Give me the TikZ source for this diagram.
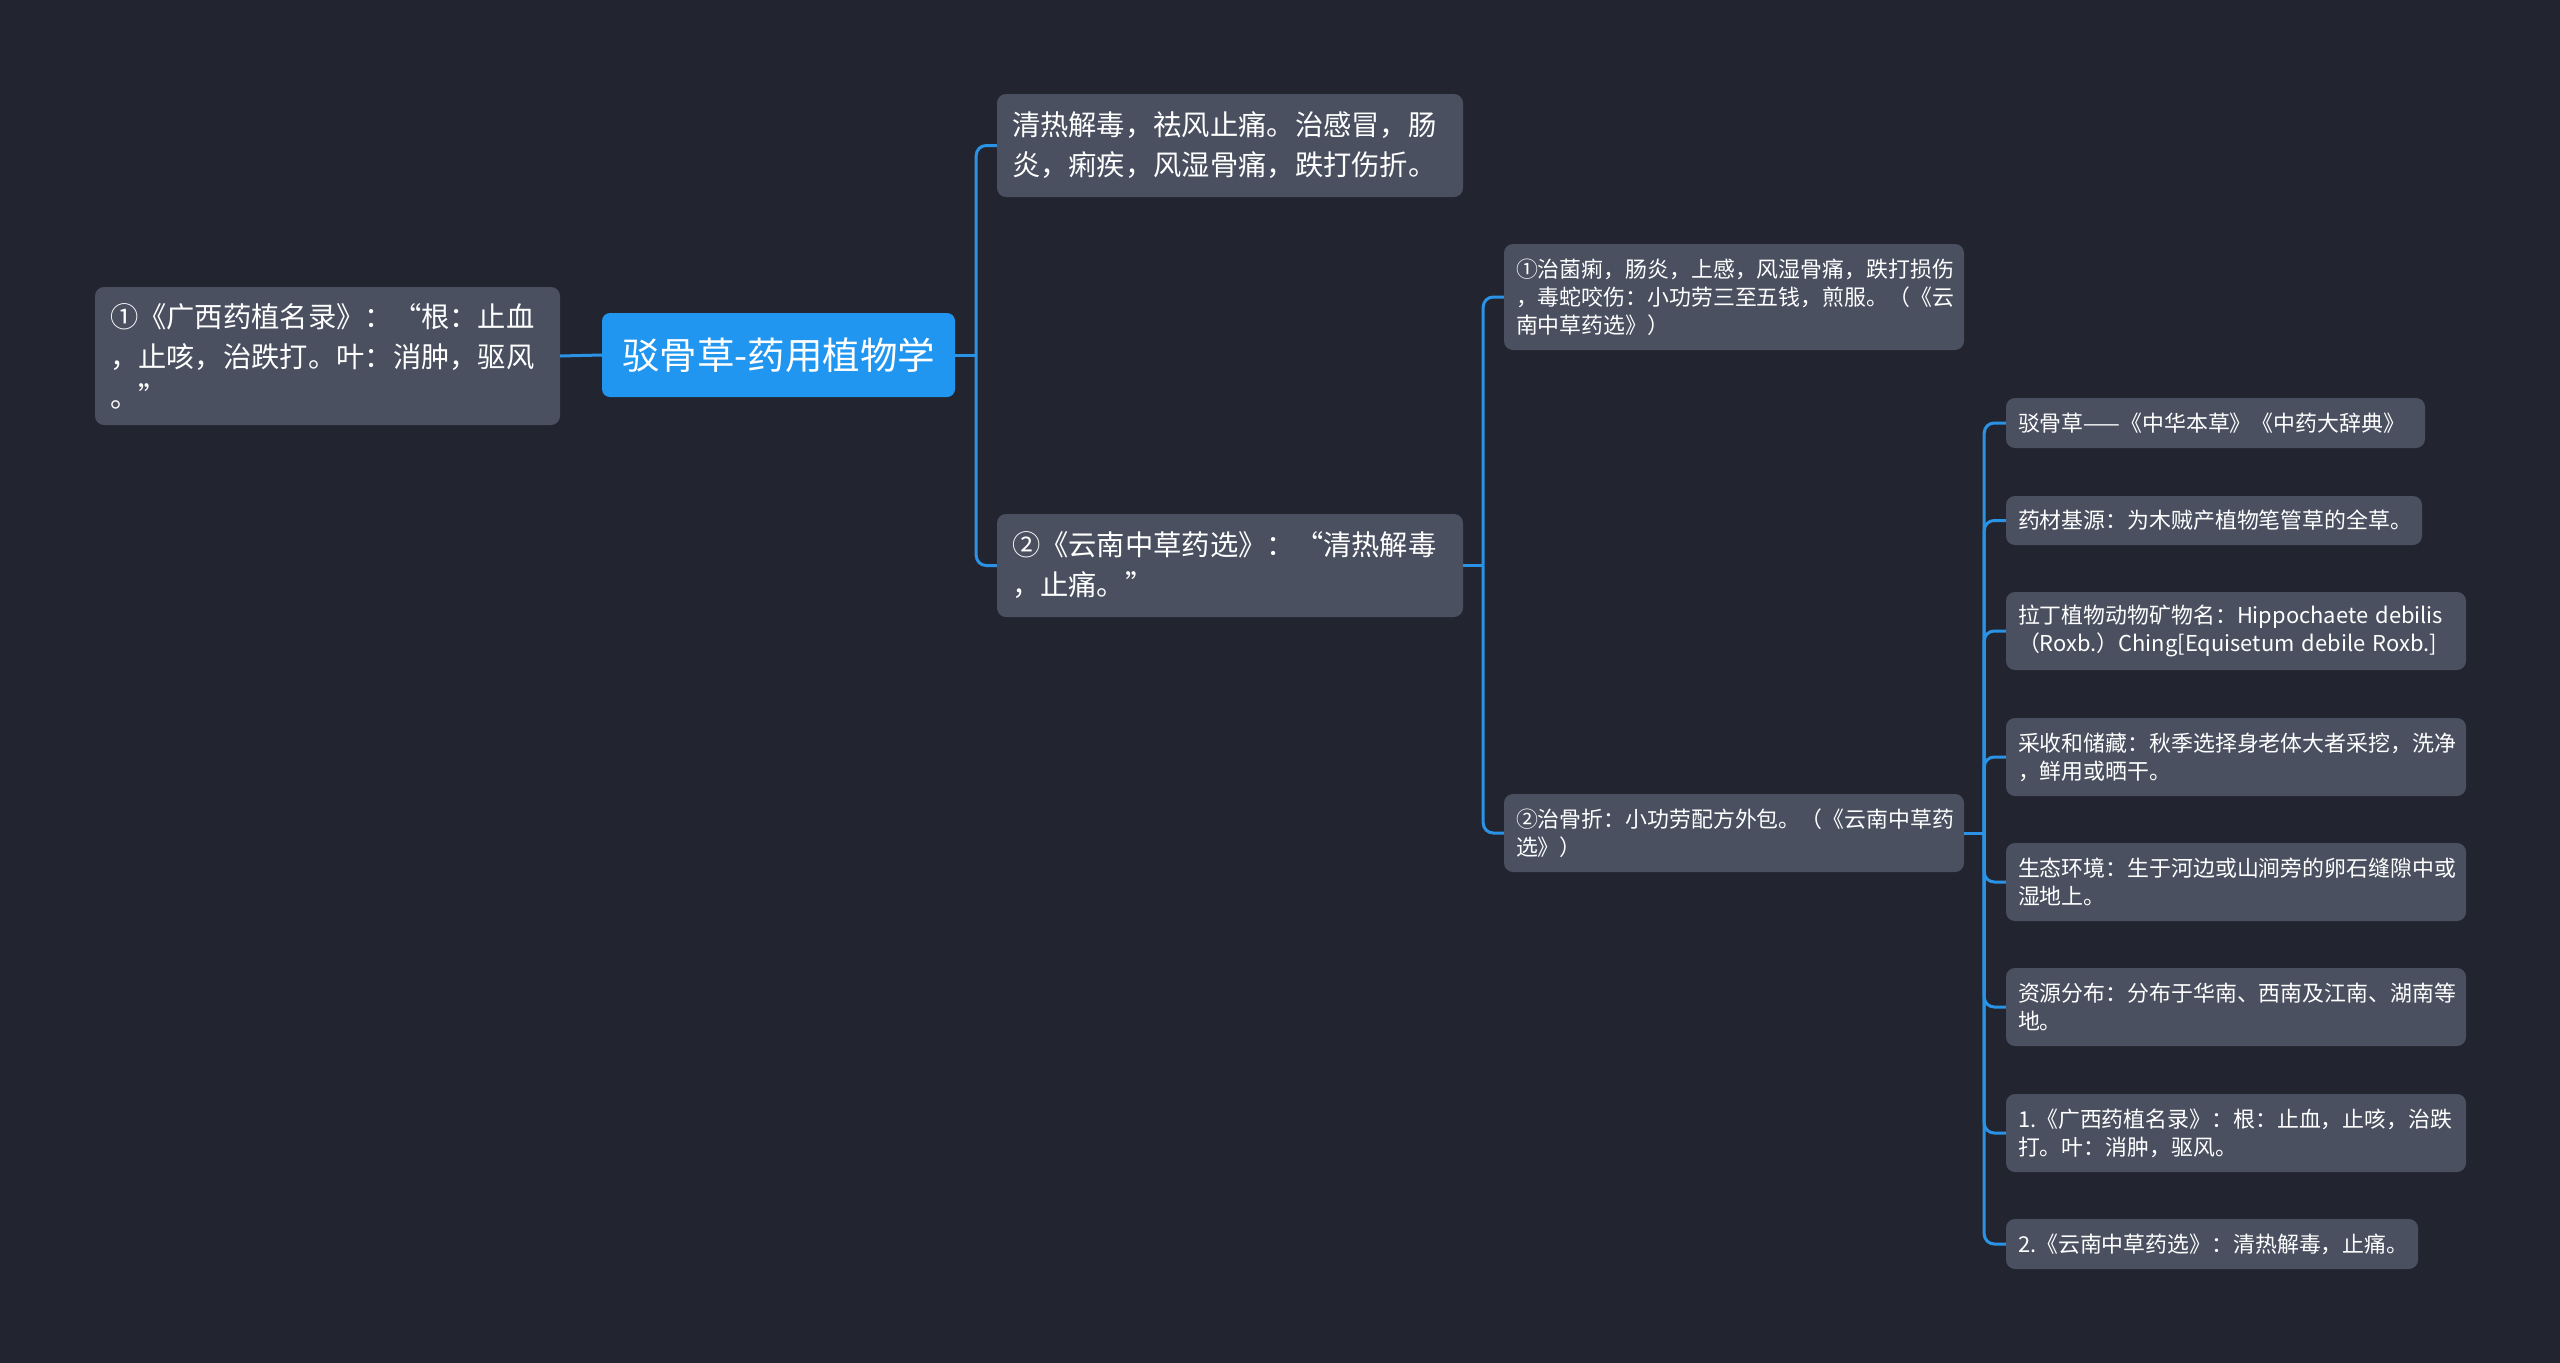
\documentclass[tikz,border=0pt]{standalone}
\usepackage{fontspec}
\setmainfont{Noto Sans CJK SC}
\usetikzlibrary{calc}
\definecolor{bgc}{HTML}{22252F}
\definecolor{boxc}{HTML}{4A5060}
\definecolor{rootc}{HTML}{2196F0}
\definecolor{linec}{HTML}{2B93E6}
\tikzset{
  box/.style={rounded corners=9pt, fill=boxc, text=white, inner ysep=0pt, anchor=center, align=left},
  bigbox/.style={box, font=\fontsize{28.3}{40}\selectfont, inner xsep=15pt},
  smallbox/.style={box, font=\fontsize{21.9}{28}\selectfont, inner xsep=12pt},
  rootbox/.style={rounded corners=8pt, fill=rootc, text=white, inner sep=0pt, anchor=center, align=center, font=\fontsize{37.5}{44}\selectfont},
  conn/.style={draw=linec, line width=3pt, rounded corners=10pt},
}
\begin{document}
\begin{tikzpicture}[x=1pt,y=-1pt]
\fill[bgc] (0,0) rectangle (2560,1363);
\useasboundingbox (0,0) rectangle (2560,1363);

% nodes
\node[bigbox, minimum width=465pt, minimum height=138pt, text width=435pt] (left) at (327.5,356)
  {①《广西药植名录》：“根：止血\\，止咳，治跌打。叶：消肿，驱风\\。”};
\node[rootbox, minimum width=353pt, minimum height=84pt] (root) at (778.5,355) {驳骨草-药用植物学};

\node[bigbox, minimum width=466pt, minimum height=103pt, text width=436pt] (A) at (1230,145.5)
  {清热解毒，祛风止痛。治感冒，肠\\炎，痢疾，风湿骨痛，跌打伤折。};
\node[bigbox, minimum width=466pt, minimum height=103pt, text width=436pt] (B) at (1230,565.5)
  {②《云南中草药选》：“清热解毒\\，止痛。”};

\node[smallbox, minimum width=460pt, minimum height=106pt, text width=436pt] (C1) at (1734,297)
  {①治菌痢，肠炎，上感，风湿骨痛，跌打损伤\\，毒蛇咬伤：小功劳三至五钱，煎服。（《云\\南中草药选》）};
\node[smallbox, minimum width=460pt, minimum height=78pt, text width=436pt] (C2) at (1734,833)
  {②治骨折：小功劳配方外包。（《云南中草药\\选》）};

\node[smallbox, minimum width=419pt, minimum height=50pt, text width=395pt] (L1) at (2215.5,423)
  {驳骨草——《中华本草》《中药大辞典》};
\node[smallbox, minimum width=416pt, minimum height=49pt, text width=392pt] (L2) at (2214,520.5)
  {药材基源：为木贼产植物笔管草的全草。};
\node[smallbox, minimum width=460pt, minimum height=78pt, text width=436pt] (L3) at (2236,631)
  {拉丁植物动物矿物名：Hippochaete debilis\\（Roxb.）Ching[Equisetum debile Roxb.]};
\node[smallbox, minimum width=460pt, minimum height=78pt, text width=436pt] (L4) at (2236,757)
  {采收和储藏：秋季选择身老体大者采挖，洗净\\，鲜用或晒干。};
\node[smallbox, minimum width=460pt, minimum height=78pt, text width=436pt] (L5) at (2236,882)
  {生态环境：生于河边或山涧旁的卵石缝隙中或\\湿地上。};
\node[smallbox, minimum width=460pt, minimum height=78pt, text width=436pt] (L6) at (2236,1007)
  {资源分布：分布于华南、西南及江南、湖南等\\地。};
\node[smallbox, minimum width=460pt, minimum height=78pt, text width=436pt] (L7) at (2236,1133)
  {1.《广西药植名录》：根：止血，止咳，治跌\\打。叶：消肿，驱风。};
\node[smallbox, minimum width=412pt, minimum height=50pt, text width=388pt] (L8) at (2212,1244)
  {2.《云南中草药选》：清热解毒，止痛。};

% connectors
\draw[conn] (left.east) -- (root.west);
\coordinate (jr) at ($(root.east)+(21,0)$);
\draw[conn] (root.east) -- (jr);
\draw[conn] (jr) |- (A.west);
\draw[conn] (jr) |- (B.west);

\coordinate (jb) at ($(B.east)+(20,0)$);
\draw[conn] (B.east) -- (jb);
\draw[conn] (jb) |- (C1.west);
\draw[conn] (jb) |- (C2.west);

\coordinate (jc) at ($(C2.east)+(20,0)$);
\draw[conn] (C2.east) -- (jc);
\foreach \n in {L1,L2,L3,L4,L5,L6,L7,L8}{
  \draw[conn] (jc) |- (\n.west);
}
\end{tikzpicture}
\end{document}
